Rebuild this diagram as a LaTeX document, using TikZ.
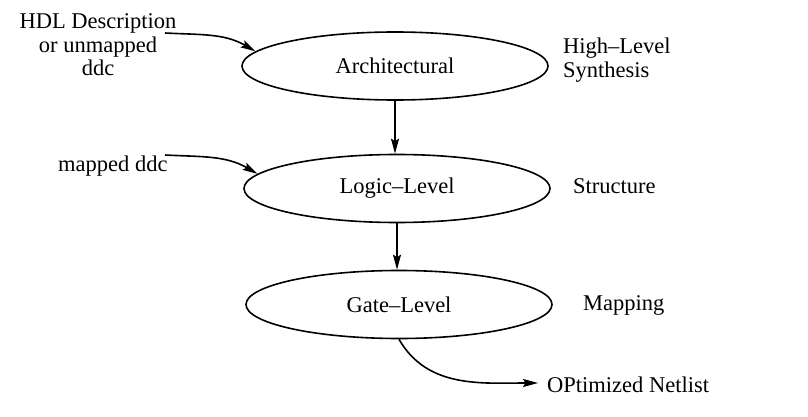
\documentclass[tikz,border=0pt]{standalone}
\usepackage{fontspec}
\setmainfont{Liberation Serif}
\usetikzlibrary{arrows.meta,shapes.geometric}
\begin{document}
\begin{tikzpicture}[x=1pt,y=-1pt,
  every node/.style={font=\fontsize{22.5}{23.5}\selectfont, inner sep=0pt},
  stage/.style={ellipse, draw, line width=1.6pt, minimum width=306pt, minimum height=68pt},
  arr/.style={line width=1.6pt, -{Stealth[length=15pt,width=8pt,inset=2.5pt]}}]
\useasboundingbox (0,0) rectangle (808,417);
\node[stage] (arch) at (395,66) {Architectural};
\node[stage] (logic) at (397,188.5) {Logic–Level};
\node[stage] (gate) at (399,304.5) {Gate–Level};
\node[align=center] (hdl) at (98,45) {HDL Description\\or unmapped\\ddc};
\node[anchor=west] (mapped) at (58,166) {mapped ddc};
\node[anchor=west, align=left] (hls) at (563,60) {High–Level\\Synthesis};
\node[anchor=west] (struct) at (573,186) {Structure};
\node[anchor=west] (mapping) at (583,305) {Mapping};
\node[anchor=west] (net) at (547,385) {OPtimized Netlist};
\coordinate (hdlout) at (165,33);
\coordinate (mapout) at (165,155);
\coordinate (netin) at (538,383);
\draw[arr] (hdlout) to[out=-3,in=150] (arch.174);
\draw[arr] (mapout) to[out=-3,in=150] (logic.174);
\draw[arr] (arch.south) -- (arch.south |- logic.north);
\draw[arr] (logic.south) -- (logic.south |- gate.north);
\draw[arr] (gate.south) to[out=-60,in=180] (netin);
\end{tikzpicture}
\end{document}
